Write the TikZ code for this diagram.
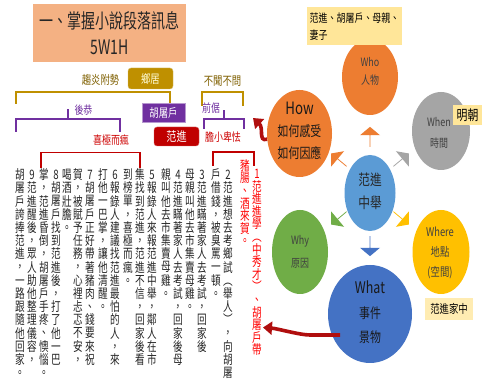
\documentclass[tikz,border=0pt]{standalone}
\usepackage{fontspec}
\setmainfont[FakeStretch=0.78]{Noto Sans CJK TC}
\newfontfamily\titlefont[FakeStretch=0.7]{Noto Sans CJK TC}
\newfontfamily\vfont[FakeStretch=0.74,RawFeature=+vert]{Noto Sans CJK TC}
\usetikzlibrary{shapes.geometric,shapes.arrows,arrows.meta,calc}
\definecolor{salmon}{HTML}{F4B183}
\definecolor{goldc}{HTML}{BF9000}
\definecolor{goldtxt}{HTML}{7F6000}
\definecolor{purp}{HTML}{7030A0}
\definecolor{dred}{HTML}{C00000}
\definecolor{brred}{HTML}{FF0000}
\definecolor{orng}{HTML}{ED7D31}
\definecolor{gry}{HTML}{A5A5A5}
\definecolor{yel}{HTML}{FFC000}
\definecolor{blu}{HTML}{4472C4}
\definecolor{lblu}{HTML}{5B9BD5}
\definecolor{grn}{HTML}{70AD47}
\definecolor{paley}{HTML}{FFE699}
\definecolor{txtg}{HTML}{404040}
\definecolor{arred}{HTML}{B00E0E}
\makeatletter
\newdimen\vpitch \vpitch=13.2pt
\newdimen\vcw \vcw=11pt
\def\vcol@end{\vcol@end}
\def\vcol@loop#1{\ifx#1\vcol@end\else
  \vbox to\vpitch{\vss\hbox to\vcw{\hss\vphantom{國}#1\hss}\vss}%
  \expandafter\vcol@loop\fi}
\newcommand\vcol[1]{\vbox{\offinterlineskip\vcol@loop#1\vcol@end}}
\makeatother
\begin{document}
\begin{tikzpicture}[x=1pt,y=-1pt,
  bracket/.style={line width=1.6pt, line join=miter},
  vt/.style={inner sep=0pt, anchor=north, text=black!85, font=\vfont\fontsize{13}{13}\selectfont},
  lbl/.style={inner sep=0pt, font=\fontsize{12}{14}\selectfont},
  rlbl/.style={inner sep=0pt, text=dred!80!red, font=\fontsize{11.5}{13}\selectfont},
  ell/.style={ellipse, inner sep=0pt, draw=none},
  etxt/.style={inner sep=0pt, align=center},
  blk/.style={single arrow, draw=none, inner sep=0pt, minimum height=20pt, minimum width=20pt, single arrow head extend=5pt, single arrow tip angle=100},
  tagbox/.style={fill=paley, inner sep=0pt},
  redarr/.style={arred, line width=3.6pt, -{Triangle[length=9pt,width=13pt]}}
]
\fill[white] (0,0) rectangle (483,382);
\useasboundingbox (0,0) rectangle (483,382);

% ---------- left part ----------
\node[fill=salmon, minimum width=153pt, minimum height=58pt, inner sep=0pt, align=center,
  font=\titlefont\fontsize{20}{26}\selectfont, text=black!85] (title) at (109.5,33.5) {一、掌握小說段落訊息\\5W1H};

\node[fill=goldc, draw=goldc!60, rounded corners=3pt, minimum width=45pt, minimum height=21pt,
  inner sep=0pt, text=yellow!15, font=\fontsize{12}{14}\selectfont] (xiang) at (150.5,78.5) {鄉居};
\node[lbl, text=goldtxt] (qu) at (100.5,80) {趨炎附勢};
\node[lbl, text=goldtxt] (bu) at (222.5,81) {不聞不問};

\draw[goldc, bracket] (16,104) -- (16,92) -- (170,92) -- (170,103);
\draw[goldc, bracket] (202,106) -- (202,92) -- (243,92) -- (243,106);

\node[fill=purp, draw=purp!50, minimum width=43pt, minimum height=19pt, inner sep=0pt,
  text=white, font=\fontsize{12}{14}\selectfont] (hu) at (163.5,112.5) {胡屠戶};
\node[fill=dred, draw=dred!60, rounded corners=3pt, minimum width=45pt, minimum height=19pt,
  inner sep=0pt, text=white, font=\fontsize{13}{14}\selectfont] (fan) at (176.5,136.5) {范進};

\draw[purp, bracket] (16,132) -- (16,119) -- (120,119) -- (120,132) (68,119) -- (68,109);
\draw[purp, bracket] (204,129) -- (204,119) -- (244,119) -- (244,129) (224,119) -- (224,110);
\node[lbl, text=purp, font=\fontsize{11.5}{13}\selectfont] (hou) at (83.5,110) {後恭};
\node[lbl, text=purp, font=\fontsize{11.5}{13}\selectfont] (qian) at (211,108.5) {前倨};

\node[rlbl] (xi) at (111,140.5) {喜極而瘋};
\node[rlbl] (dan) at (223,137.5) {膽小卑怯};

\draw[dred, bracket] (41,168) -- (41,152.5) -- (140,152.5) -- (140,168);
\draw[dred, bracket] (213,166) -- (213,152) -- (254,152) -- (254,166);

% vertical text columns (right to left)
\node[vt, text=brred] (r1) at (257,167) {\vpitch=12.6pt\vcol{1范進進學（中秀才）、胡屠戶帶}};
\node[vt, text=brred] (r2) at (245,159) {\vpitch=12.6pt\vcol{豬腸、酒來賀。}};
\node[vt] (c2a) at (228,168) {\vcol{2范進想去考鄉試（舉人），向胡屠}};
\node[vt] (c2b) at (216,168) {\vcol{戶借錢，被臭罵一頓。}};
\node[vt] (c3a) at (202,168) {\vcol{3范進瞞著家人去考試，回家後}};
\node[vt] (c3b) at (190,168) {\vcol{母親叫他去市集賣母雞。}};
\node[vt] (c4a) at (178,168) {\vcol{4范進瞞著家人去考試，回家後母}};
\node[vt] (c4b) at (166,168) {\vcol{親叫他去市集賣母雞。}};
\node[vt] (c5a) at (152,168) {\vcol{5報錄人來報范進中舉，鄰人在市}};
\node[vt] (c5b) at (140,168) {\vcol{集找到范進，范進不信，回家後看}};
\node[vt] (c5c) at (128,168) {\vcol{到榜單，喜極而瘋。}};
\node[vt] (c6a) at (115,168) {\vcol{6報錄人建議找范進最怕的人，來}};
\node[vt] (c6b) at (103,168) {\vcol{打他一巴掌，讓他清醒。}};
\node[vt] (c7a) at (90,168) {\vcol{7胡屠戶正好帶著豬肉、錢要來祝}};
\node[vt] (c7b) at (78,168) {\vcol{賀，被賦予任務，心裡忐忑不安，}};
\node[vt] (c7c) at (67,168) {\vcol{喝酒壯膽。}};
\node[vt] (c8a) at (56,168) {\vcol{8胡屠戶找到范進後，打了他一巴}};
\node[vt] (c8b) at (44,168) {\vcol{掌，范進昏倒，胡屠戶手疼、懊惱。}};
\node[vt] (c9a) at (32,168) {\vcol{9范進醒後，眾人助他整理儀容，}};
\node[vt] (c9b) at (20,168) {\vcol{胡屠戶誇捧范進，一路跟隨他回家。}};

% ---------- right part ----------
\node[ell, fill=orng, minimum width=56pt, minimum height=76pt] (who) at (370,77) {};
\node[etxt, text=txtg, font=\fontsize{11.5}{18}\selectfont] (whot) at (370,71) {Who\\人物};
\node[tagbox, anchor=north west, minimum width=95pt, minimum height=38pt, text width=90pt,
  align=left, font=\fontsize{11.5}{17}\selectfont] (whol) at (307,7) {范進、胡屠戶、母親、\\妻子};

\node[ell, fill=gry, minimum width=58pt, minimum height=78pt] (when) at (441,131) {};
\node[etxt, text=txtg, font=\fontsize{11.5}{21}\selectfont] (whent) at (439,132.5) {When\\時間};
\node[tagbox, minimum width=29pt, minimum height=20pt, font=\fontsize{14}{16}\selectfont] (ming) at (467.5,115) {明朝};

\node[ell, fill=yel, minimum width=57pt, minimum height=84pt] (where) at (441,252) {};
\node[etxt, text=txtg, font=\fontsize{12}{20}\selectfont] (wheret) at (440,253) {Where\\地點\\(空間)};
\node[tagbox, fill=paley!75!white, minimum width=48pt, minimum height=22pt, font=\fontsize{12}{14}\selectfont] (home) at (449,309) {范進家中};

\node[ell, fill=blu, minimum width=84pt, minimum height=98pt] (what) at (370,314) {};
\node[etxt, text=black!90, font=\fontsize{14}{24.5}\selectfont] (whatt) at (370,312.5) {{\fontsize{16}{24.5}\selectfont What}\\事件\\景物};

\node[ell, fill=grn, minimum width=56pt, minimum height=84pt] (why) at (300,252) {};
\node[etxt, text=txtg, font=\fontsize{11.5}{23}\selectfont] (whyt) at (300,251.5) {Why\\原因};

\node[ell, fill=orng, minimum width=65pt, minimum height=87pt] (how) at (299.5,133.5) {};
\node[etxt, text=black!90, font=\fontsize{14}{22}\selectfont] (howt) at (299.5,130.5) {{\fontsize{17}{22}\selectfont How}\\如何感受\\如何因應};

\node[ell, fill=lblu, minimum width=51pt, minimum height=76pt] (ctr) at (370,193) {};
\node[etxt, text=black!85, font=\fontsize{15}{23}\selectfont] (ctrt) at (370,191.5) {范進\\中舉};

% block arrows
\node[blk, fill=orng, rotate=90] (aup) at (370,137) {};
\node[blk, fill=gry, rotate=40] (aur) at (401,160) {};
\node[blk, fill=orng, rotate=140] (aul) at (339,160) {};
\node[blk, fill=grn, rotate=220] (adl) at (339,218) {};
\node[blk, fill=yel, rotate=-40] (adr) at (401,218) {};
\node[blk, fill=blu, rotate=-90] (adn) at (370,246) {};

% red wavy arrows
\coordinate (t1) at (253,118);
\coordinate (t2) at (263,327.5);
\draw[redarr] (how.190) .. controls (258,142) and (264,128) .. (t1);
\draw[redarr] ($(what.center)+(-30,21)$) -- ++(-30,0) .. controls +(-10,0) and +(14,1) .. (t2);
\end{tikzpicture}
\end{document}
